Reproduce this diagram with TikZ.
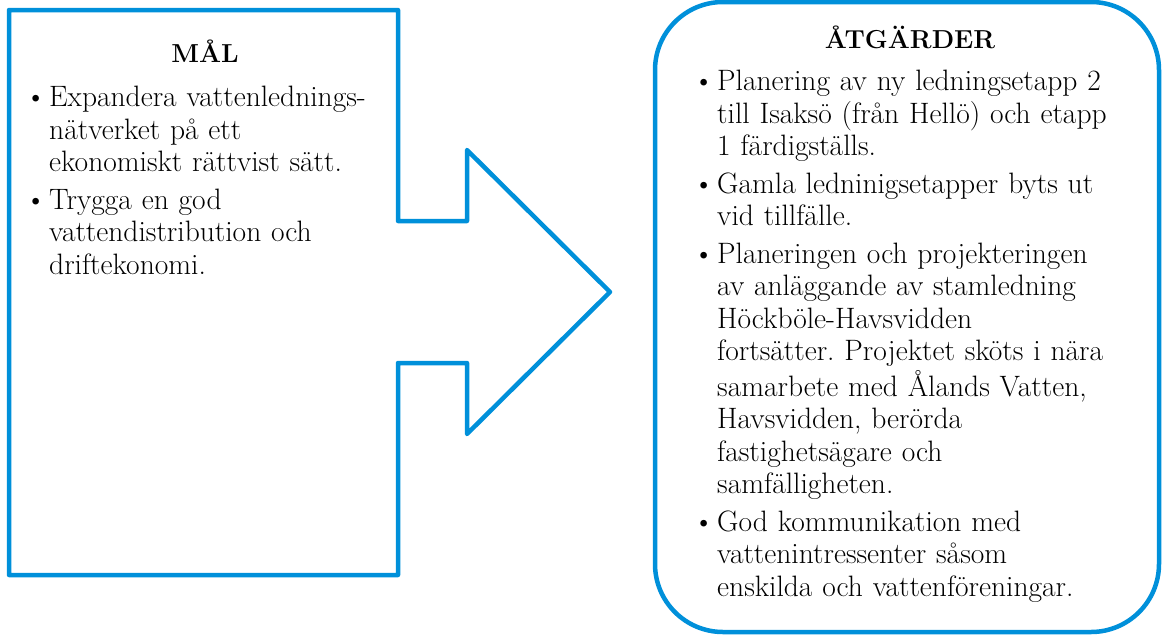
\documentclass[tikz,border=0pt]{standalone}
\usepackage{fontspec}
\usepackage{tikz}
\usetikzlibrary{positioning}
\usepackage{xcolor}
\definecolor{ramblaa}{RGB}{0,144,218}

% en punkt i listan: prick och rader under varandra
\newcommand{\punkt}[1]{\par\noindent\makebox[24pt][l]{\textbullet}%
    \begin{tabular}[t]{@{}l@{}}#1\end{tabular}}

\tikzset{
    ram/.style={draw=ramblaa, line width=4.5pt, line join=round},
    rubrik/.style={anchor=base, inner sep=0pt, font=\fontsize{26}{32}\selectfont\bfseries},
    lista/.style={anchor=north west, inner sep=0pt,
        font=\fontsize{29.5}{32.5}\selectfont\setlength{\parskip}{4pt}\frenchspacing}
}

\begin{document}
\begin{tikzpicture}[x=1pt, y=-1pt]
    \useasboundingbox (0,0) rectangle (1163,635);
    % Pil med mål
    \draw[ram] (9,10) -- (398,10) -- (398,221) -- (467,221) -- (467,150)
        -- (610,292) -- (467,434) -- (467,363) -- (398,363) -- (398,575)
        -- (9,575) -- cycle;
    % Ruta med åtgärder
    \draw[ram, rounded corners=68pt] (655,2) rectangle (1159,632);
    % Rubriker
    \node[rubrik] (mal) at (205,62) {MÅL};
    \node[rubrik] (atgarder) at (910,48) {ÅTGÄRDER};
    % Punkter
    \node[lista, text width=370pt] (malLista) at (25,70) {%
        \punkt{Expandera vattenlednings-\\nätverket på ett\\ekonomiskt rättvist sätt.}
        \punkt{Trygga en god\\vattendistribution och\\driftekonomi.}};
    \node[lista, text width=460pt] (atgLista) at (693,54) {%
        \punkt{Planering av ny ledningsetapp 2\\till Isaksö (från Hellö) och etapp\\1 färdigställs.}
        \punkt{Gamla ledninigsetapper byts ut\\vid tillfälle.}
        \punkt{Planeringen och projekteringen\\av anläggande av stamledning\\Höckböle-Havsvidden\\fortsätter. Projektet sköts i nära\\samarbete med Ålands Vatten,\\Havsvidden, berörda\\fastighetsägare och\\samfälligheten.}
        \punkt{God kommunikation med\\vattenintressenter såsom\\enskilda och vattenföreningar.}};
\end{tikzpicture}
\end{document}
